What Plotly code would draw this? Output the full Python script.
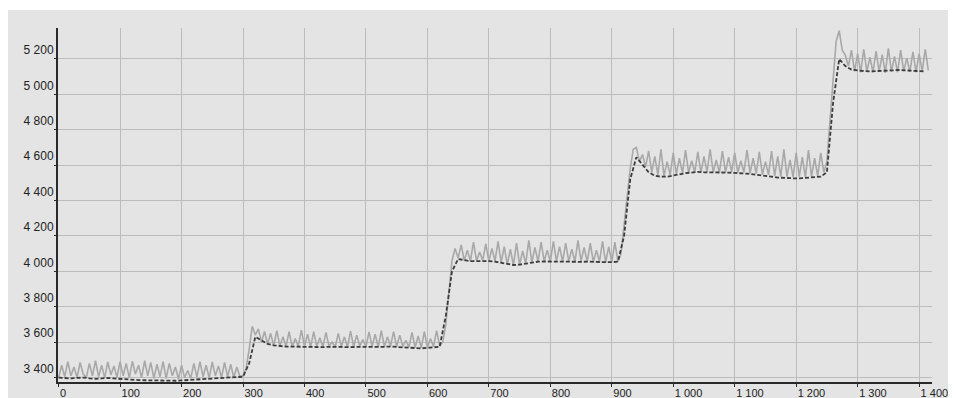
import plotly.graph_objects as go

# light grey noisy series, sampled every 5 units (x = 0 .. 1415)
light_step = 5
light_values = [
    3400, 3470, 3405, 3490, 3410, 3460, 3400, 3485, 3420, 3400,
    3480, 3410, 3495, 3405, 3470, 3400, 3488, 3415, 3465, 3402,
    3490, 3410, 3480, 3398, 3492, 3420, 3470, 3400, 3495, 3410,
    3485, 3396, 3475, 3405, 3490, 3395, 3480, 3410, 3460, 3392,
    3470, 3400, 3440, 3395, 3480, 3402, 3490, 3405, 3470, 3398,
    3488, 3410, 3465, 3400, 3485, 3405, 3475, 3400, 3460, 3405,
    3410, 3450, 3560, 3690, 3640, 3675, 3600, 3660, 3590, 3650,
    3580, 3665, 3578, 3630, 3576, 3660, 3575, 3620, 3578, 3668,
    3575, 3645, 3572, 3660, 3576, 3625, 3574, 3655, 3578, 3600,
    3573, 3650, 3576, 3630, 3572, 3662, 3575, 3640, 3578, 3615,
    3574, 3658, 3576, 3645, 3572, 3665, 3575, 3630, 3578, 3660,
    3574, 3640, 3576, 3610, 3572, 3655, 3570, 3635, 3568, 3660,
    3572, 3620, 3575, 3665, 3580, 3600, 3700, 3880, 4060, 4130,
    4075, 4150, 4060, 4120, 4058, 4165, 4060, 4110, 4062, 4155,
    4058, 4130, 4060, 4170, 4050, 4140, 4040, 4125, 4035, 4160,
    4038, 4115, 4045, 4175, 4052, 4135, 4055, 4165, 4058, 4120,
    4055, 4170, 4058, 4140, 4055, 4160, 4058, 4125, 4055, 4175,
    4058, 4135, 4055, 4160, 4052, 4120, 4055, 4170, 4050, 4140,
    4052, 4165, 4055, 4100, 4250, 4420, 4580, 4690, 4700, 4620,
    4660, 4590, 4680, 4560, 4650, 4545, 4690, 4540, 4620, 4545,
    4670, 4550, 4640, 4555, 4685, 4558, 4625, 4560, 4675, 4558,
    4650, 4562, 4690, 4560, 4630, 4558, 4680, 4560, 4645, 4562,
    4670, 4558, 4625, 4560, 4685, 4555, 4640, 4552, 4675, 4548,
    4620, 4545, 4680, 4540, 4650, 4535, 4690, 4535, 4630, 4532,
    4670, 4535, 4645, 4532, 4685, 4535, 4640, 4538, 4670, 4560,
    4620, 4850, 5100, 5300, 5360, 5250, 5220, 5160, 5250, 5130,
    5230, 5125, 5255, 5128, 5210, 5125, 5245, 5130, 5225, 5122,
    5260, 5128, 5215, 5125, 5250, 5130, 5205, 5128, 5240, 5125,
    5230, 5130, 5255, 5135,
]

# dark dashed trend series, sampled every 10 units (x = 0 .. 1410)
dark_step = 10
dark_values = [
    3400, 3398, 3395, 3398, 3400, 3396, 3393, 3395, 3398, 3395,
    3392, 3390, 3388, 3386, 3385, 3384, 3382, 3380, 3380, 3382,
    3384, 3386, 3390, 3393, 3395, 3398, 3400, 3398, 3400, 3402,
    3405, 3480, 3630, 3610, 3590, 3582, 3578, 3575, 3575, 3574,
    3575, 3574, 3573, 3572, 3574, 3575, 3573, 3572, 3574, 3575,
    3574, 3573, 3572, 3574, 3575, 3573, 3572, 3568, 3566, 3565,
    3568, 3570, 3574, 3750, 4000, 4070, 4062, 4058, 4058, 4060,
    4058, 4055, 4050, 4042, 4036, 4038, 4045, 4052, 4055, 4056,
    4055, 4056, 4055, 4056, 4055, 4054, 4055, 4053, 4052, 4052,
    4052, 4055, 4200, 4520, 4645, 4600, 4560, 4540, 4535, 4535,
    4540, 4548, 4555, 4560, 4562, 4560, 4560, 4562, 4560, 4558,
    4556, 4555, 4552, 4548, 4545, 4540, 4535, 4530, 4528, 4526,
    4525, 4527, 4530, 4532, 4535, 4560, 4950, 5200, 5160, 5140,
    5135, 5132, 5130, 5132, 5135, 5138, 5140, 5138, 5135, 5132,
    5132, 5130,
]

x_ticks = [0, 100, 200, 300, 400, 500, 600, 700, 800, 900, 1000, 1100, 1200, 1300, 1400]
y_ticks = [3400, 3600, 3800, 4000, 4200, 4400, 4600, 4800, 5000, 5200]

light_x = [i * light_step for i in range(len(light_values))]
dark_x = [i * dark_step for i in range(len(dark_values))]

BG = "#e4e4e4"
GRID = "#bcbcbc"
AXIS = "#2a2a2a"
FONT = dict(family="Liberation Sans, Arial, sans-serif", size=12, color="#222222")
XFONT = dict(family="Liberation Sans, Arial, sans-serif", size=11, color="#222222")

fig = go.Figure()
fig.add_trace(go.Scatter(
    x=light_x, y=light_values, mode="lines",
    line=dict(color="#a8a8a8", width=1.6),
    showlegend=False, hoverinfo="skip",
))
fig.add_trace(go.Scatter(
    x=dark_x, y=dark_values, mode="lines",
    line=dict(color="#3c3c3c", width=1.8, dash="4px,2px"),
    showlegend=False,
))

# the page body adds an 8px white margin on the left and top;
# the figure runs past the right and bottom edges of the window
fig.update_layout(
    width=956, height=398,
    margin=dict(l=50, r=32, t=20, b=24, autoexpand=False),
    paper_bgcolor=BG, plot_bgcolor=BG,
    separators=". ",
    font=FONT,
    showlegend=False,
    shapes=[
        dict(type="rect", xref="paper", yref="paper", x0=-0.1, x1=1.1,
             y0=1.0508, y1=1.2, fillcolor="white", line=dict(width=0), layer="below"),
    ],
)
fig.update_xaxes(
    range=[-1, 1421], tickvals=x_ticks, tickformat=",d", automargin=False,
    showgrid=True, gridcolor=GRID, gridwidth=1, zeroline=False,
    showline=True, linecolor=AXIS, linewidth=2,
    ticks="outside", ticklen=3, tickcolor=AXIS, tickwidth=1,
    ticklabelposition="outside right", ticklabelstandoff=0, tickfont=XFONT,
)
fig.update_yaxes(
    range=[3375, 5375], tickvals=y_ticks, tickformat=",d", automargin=False,
    showgrid=True, gridcolor=GRID, gridwidth=1, zeroline=False,
    showline=True, linecolor=AXIS, linewidth=2,
    ticks="outside", ticklen=2, tickcolor=AXIS, tickwidth=1,
    ticklabelposition="outside top", tickfont=FONT,
)

fig.write_html("out.html")
